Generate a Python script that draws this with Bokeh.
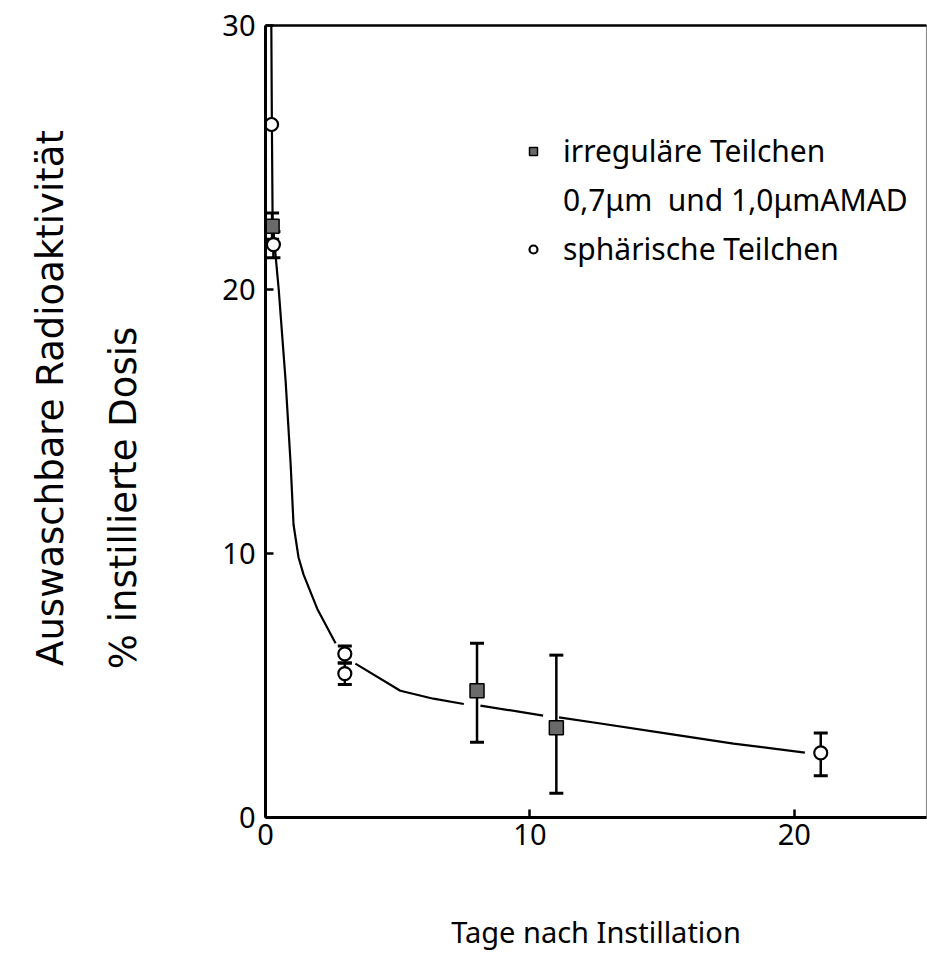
from bokeh.plotting import figure
from bokeh.models import (ColumnDataSource, Whisker, TeeHead, Legend,
                          LegendItem, Range1d, FixedTicker, LinearAxis)
from bokeh.embed import file_html
from bokeh.resources import INLINE

# --- data (days after instillation, % of instilled dose) ---
irr_days = [0.25, 8, 11]
irr_vals = [22.4, 4.8, 3.4]
irr_lo = [21.9, 2.85, 0.92]
irr_hi = [22.9, 6.6, 6.15]

sph_days = [0.23, 0.3, 3, 3, 21]
sph_vals = [26.25, 21.7, 6.2, 5.45, 2.45]
sph_lo = [26.25, 21.2, 5.85, 5.04, 1.58]
sph_hi = [26.25, 22.2, 6.5, 5.85, 3.2]

# fitted retention curve, drawn in pieces that stop short of the markers
curve_x = [
    [0.22, 0.24, 0.27, 0.5, 0.76, 0.95, 1.06, 1.25, 1.44, 1.96, 2.65],
    [3.4, 5.1, 6.35, 7.5],
    [8.13, 10.5],
    [11.1, 12.67, 15.2, 17.7, 20.4],
]
curve_y = [
    [30.0, 26.5, 22.5, 20.0, 16.55, 13.4, 11.1, 9.85, 9.2, 7.9, 6.6],
    [5.83, 4.8, 4.5, 4.3],
    [4.24, 3.86],
    [3.79, 3.56, 3.18, 2.8, 2.46],
]

x_ticks = [0, 10, 20]
y_ticks = [0, 10, 20, 30]

FONT = "Noto Sans"
TITLE_FONT = "DejaVu Sans"
NB = "\u00a0"

p = figure(width=927, height=979, output_backend="svg", toolbar_location=None,
           x_range=Range1d(0, 25), y_range=Range1d(0, 30),
           min_border_left=265, min_border_right=1, min_border_top=25,
           min_border_bottom=162)
p.grid.visible = False
p.outline_line_color = "#8a8a8a"
p.outline_line_width = 1.2
p.background_fill_color = "white"
p.border_fill_color = "white"

for ax in (p.xaxis[0], p.yaxis[0]):
    ax.axis_line_width = 3
    ax.axis_line_color = "black"
    ax.major_tick_in = 8
    ax.major_tick_out = 0
    ax.major_tick_line_width = 2.5
    ax.minor_tick_line_color = None
    ax.major_label_text_font = FONT
    ax.major_label_text_font_size = "29px"
    ax.major_label_text_color = "black"
    ax.axis_label_text_color = "black"
    ax.axis_label_text_font_style = "normal"

p.xaxis.ticker = FixedTicker(ticks=x_ticks)
p.yaxis.ticker = FixedTicker(ticks=y_ticks)
p.xaxis.major_label_standoff = 6
p.yaxis.major_label_standoff = 10

p.xaxis.axis_label = "Tage nach Instillation"
p.xaxis.axis_label_text_font = FONT
p.xaxis.axis_label_text_font_size = "29px"
p.xaxis.axis_label_standoff = 64

# y title, second line sits on the main axis (padded so it starts low)
p.yaxis.axis_label = "% instillierte Dosis" + NB * 13
p.yaxis.axis_label_text_font = TITLE_FONT
p.yaxis.axis_label_text_font_size = "37px"
p.yaxis.axis_label_standoff = 74

# first line of the y title on an outer, bare axis
outer_left = LinearAxis(ticker=FixedTicker(ticks=[]), axis_line_color=None,
                        major_tick_line_color=None, minor_tick_line_color=None,
                        axis_label=NB * 4 + "Auswaschbare Radioaktivität",
                        axis_label_text_font=TITLE_FONT,
                        axis_label_text_font_style="normal",
                        axis_label_text_font_size="37px",
                        axis_label_text_color="black",
                        axis_label_standoff=28)
p.add_layout(outer_left, "left")

# heavy top edge of the frame
top_ax = LinearAxis(ticker=FixedTicker(ticks=[]), axis_line_color="black",
                    axis_line_width=2.5, major_tick_line_color=None,
                    minor_tick_line_color=None)
p.add_layout(top_ax, "above")

# curve
p.multi_line(curve_x, curve_y, line_color="black", line_width=2.2)

# error bars
irr_src = ColumnDataSource(dict(x=irr_days, y=irr_vals, lo=irr_lo, hi=irr_hi))
sph_src = ColumnDataSource(dict(x=sph_days, y=sph_vals, lo=sph_lo, hi=sph_hi))
for src in (irr_src, sph_src):
    p.add_layout(Whisker(source=src, base="x", lower="lo", upper="hi",
                         line_color="black", line_width=2.5,
                         upper_head=TeeHead(size=14, line_width=3, line_color="black"),
                         lower_head=TeeHead(size=14, line_width=3, line_color="black")))

irr_r = p.scatter("x", "y", source=irr_src, marker="square", size=14,
                  fill_color="#6a6a6a", line_color="black", line_width=1.5)
sph_r = p.scatter("x", "y", source=sph_src, marker="circle", size=13,
                  fill_color="white", line_color="black", line_width=2.2)
blank_r = p.scatter(x=[], y=[], marker="circle", size=1,
                    fill_alpha=0, line_alpha=0)

legend = Legend(items=[
    LegendItem(label="irreguläre Teilchen", renderers=[irr_r]),
    LegendItem(label="0,7μm  und 1,0μmAMAD", renderers=[blank_r]),
    LegendItem(label="sphärische Teilchen", renderers=[sph_r]),
], location=(258, 548))
legend.label_text_font = FONT
legend.label_text_font_size = "30px"
legend.label_text_color = "black"
legend.label_standoff = 20
legend.glyph_width = 20
legend.glyph_height = 20
legend.spacing = 8
legend.label_height = 36
legend.padding = 0
legend.margin = 0
legend.border_line_color = None
legend.background_fill_alpha = 0
p.add_layout(legend)

open("out.html", "w").write(file_html(p, INLINE))
